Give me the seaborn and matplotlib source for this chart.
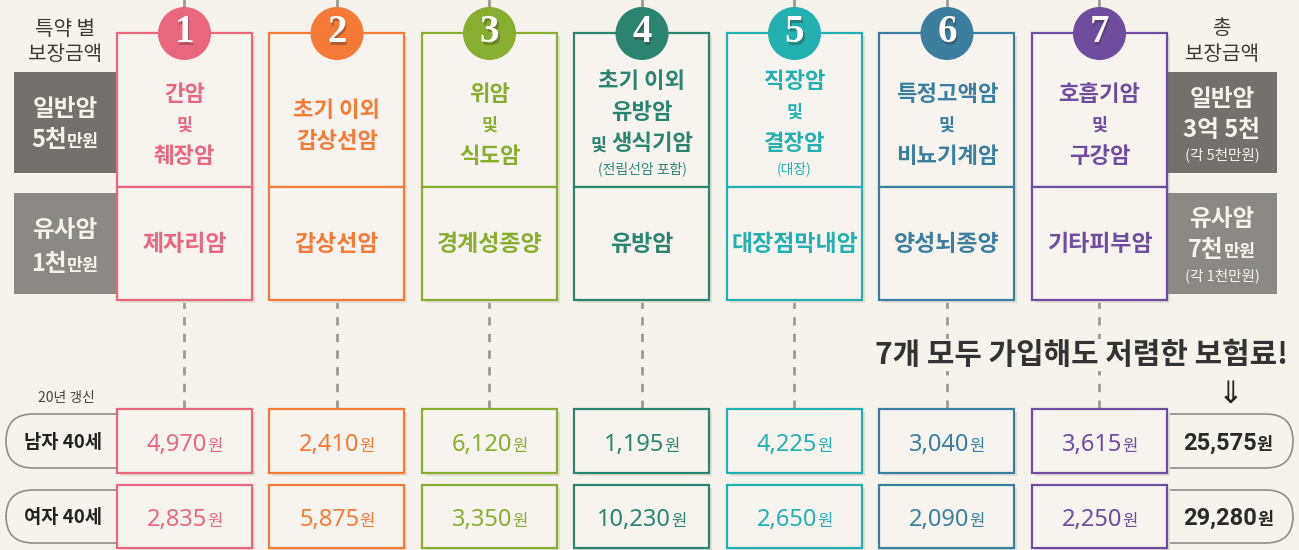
import matplotlib
matplotlib.use("Agg")
import matplotlib.pyplot as plt
import seaborn as sns
from matplotlib.patches import Rectangle, Circle, FancyBboxPatch

# ---- data ----
numbers = ["1", "2", "3", "4", "5", "6", "7"]
titles = [
    ["간암", "및", "췌장암"],
    ["초기 이외", "갑상선암"],
    ["위암", "및", "식도암"],
    ["초기 이외", "유방암", "및 생식기암", "(전립선암 포함)"],
    ["직장암", "및", "결장암", "(대장)"],
    ["특정고액암", "및", "비뇨기계암"],
    ["호흡기암", "및", "구강암"],
]
similar = ["제자리암", "갑상선암", "경계성종양", "유방암", "대장점막내암", "양성뇌종양", "기타피부암"]
male_prem = [4970, 2410, 6120, 1195, 4225, 3040, 3615]
female_prem = [2835, 5875, 3350, 10230, 2650, 2090, 2250]
row_labels = ["남자 40세", "여자 40세"]
colors = sns.color_palette(["#e9667f", "#f47a36", "#88ae2f", "#2b8470",
                            "#22b0b0", "#3b7e9e", "#6e4c9e"])

BG = "#f6f2ec"
FONT = ["Noto Sans CJK KR", "DejaVu Sans"]
NUMFONT = ["Noto Sans", "Noto Sans CJK KR"]
NUMFONT_B = ["Roboto", "Noto Sans CJK KR"]

sns.set_theme(style="white")
plt.rcParams["font.family"] = FONT

fig = plt.figure(figsize=(12.99, 5.5), dpi=100, facecolor=BG)
ax = fig.add_axes([0, 0, 1, 1])
ax.set_xlim(0, 1299)
ax.set_ylim(550, 0)
ax.axis("off")
ax.set_facecolor(BG)
renderer = fig.canvas.get_renderer()


def rich(cx, cy, parts, color, z=5, family=None):
    # parts: (text, size, weight[, gap after]) drawn on a common baseline, centred on cx
    big = max(p[1] for p in parts)
    base = cy + 0.37 * big * 100 / 72
    objs = []
    for p in parts:
        t = ax.text(0, base, p[0], fontsize=p[1], fontweight=p[2], color=color,
                    va="baseline", ha="left", family=family or FONT, zorder=z)
        objs.append((t, p[3] if len(p) > 3 else 0))
    widths = [t.get_window_extent(renderer).width + g for t, g in objs]
    x = cx - sum(widths) / 2
    for (t, g), w in zip(objs, widths):
        t.set_x(x)
        x += w


x0, pitch, w = 117, 152.5, 135
top, mid, bot = 33, 187, 300
rows_y = [(409, 473), (485, 548)]
grey = "#9d9a96"

for i, col in enumerate(colors):
    xl = x0 + i * pitch
    cx = xl + w / 2
    # dashed connector + small tick above the circle
    ax.plot([cx, cx], [bot, rows_y[0][0]], color=grey, lw=2, ls=(0, (3, 3)), zorder=1)
    ax.plot([cx, cx], [0, 8], color=grey, lw=2, zorder=1)
    # cards with a faint shadow
    for (ya, yb) in [(top, mid), (mid, bot)] + rows_y:
        ax.add_patch(Rectangle((xl + 3, ya + 3), w, yb - ya, facecolor="#e4ded5",
                               edgecolor="none", zorder=2))
        ax.add_patch(Rectangle((xl, ya), w, yb - ya, facecolor="#f7f4ef",
                               edgecolor=col, lw=1.6, zorder=3))
    # number badge
    ax.add_patch(Circle((cx, 33.5), 26.5, facecolor=col, edgecolor="none", zorder=4))
    ax.text(cx + 1.5, 35.5, numbers[i], fontsize=28, fontweight="bold", family="Liberation Serif",
            color="#3a2a2a", alpha=0.35, ha="center", va="center", zorder=4)
    ax.text(cx, 33, numbers[i], fontsize=28, fontweight="bold", family="Liberation Serif",
            color="white", ha="center", va="center", zorder=5)
    # title lines
    lines = titles[i]
    steps = [26 if ln.startswith("(") else 31 for ln in lines[1:]]
    y = 124 - sum(steps) / 2
    for k, ln in enumerate(lines):
        if k > 0:
            y += steps[k - 1]
        if ln == "및":
            rich(cx, y, [(ln, 12.5, "bold")], col)
        elif ln.startswith("및 "):
            rich(cx, y, [("및", 12.5, "bold", 5), (ln[2:], 16, "bold")], col)
        elif ln.startswith("("):
            rich(cx, y, [(ln, 10, "normal")], col)
        else:
            rich(cx, y, [(ln, 16, "bold")], col)
    rich(cx, 243, [(similar[i], 16.5, "bold")], col)
    # premiums
    for (ya, yb), prem in zip(rows_y, [male_prem[i], female_prem[i]]):
        rich(cx, (ya + yb) / 2 + 1, [(f"{prem:,}", 17, "normal"), ("원", 12, "normal")], col,
             family=NUMFONT)

# left legend
rich(65, 28, [("특약 별", 14.5, "normal")], "#3b3837")
rich(65, 53, [("보장금액", 14.5, "normal")], "#3b3837")
ax.add_patch(Rectangle((14, 72), 102, 101, facecolor="#73706d", edgecolor="none", zorder=2))
ax.add_patch(Rectangle((14, 193), 102, 101, facecolor="#8b8986", edgecolor="none", zorder=2))
light = "#f6f1ea"
rich(65, 107, [("일반암", 17, "bold")], light)
rich(65, 138, [("5천", 17, "bold"), ("만원", 12.5, "bold")], light)
rich(65, 228, [("유사암", 17, "bold")], light)
rich(65, 262, [("1천", 17, "bold"), ("만원", 12.5, "bold")], light)

# right totals
rich(1222, 27, [("총", 14.5, "normal")], "#3b3837")
rich(1222, 53, [("보장금액", 14.5, "normal")], "#3b3837")
ax.add_patch(Rectangle((1168, 72), 109, 101, facecolor="#73706d", edgecolor="none", zorder=2))
ax.add_patch(Rectangle((1168, 193), 109, 101, facecolor="#8b8986", edgecolor="none", zorder=2))
rich(1222, 97, [("일반암", 17, "bold")], light)
rich(1222, 128, [("3억 5천", 17, "bold")], light)
rich(1222, 154, [("(각 5천만원)", 10.5, "normal")], light)
rich(1222, 217, [("유사암", 17, "bold")], light)
rich(1222, 248, [("7천", 17, "bold"), ("만원", 12.5, "bold")], light)
rich(1222, 275, [("(각 1천만원)", 10.5, "normal")], light)

# row pills
rich(66, 397, [("20년 갱신", 10, "normal")], "#444444")
totals = [sum(male_prem), sum(female_prem)]
pills_y = [(414, 468), (490, 543)]
for (ya, yb), lab, tot in zip(pills_y, row_labels, totals):
    ax.add_patch(FancyBboxPatch((6, ya), 150, yb - ya, boxstyle="round,pad=0,rounding_size=27",
                                facecolor=BG, edgecolor="#8f8c89", lw=1.2, zorder=1.5))
    rich(63, (ya + yb) / 2, [(lab, 13.5, "bold")], "#222222")
    ax.add_patch(FancyBboxPatch((1140, ya), 153, yb - ya, boxstyle="round,pad=0,rounding_size=27",
                                facecolor=BG, edgecolor="#8f8c89", lw=1.2, zorder=1.5))
    rich(1228, (ya + yb) / 2, [(f"{tot:,}", 17, "bold"), ("원", 12.5, "bold")], "#2a2a2a",
         family=NUMFONT_B)

# headline + arrow
ax.text(1288, 355, "7개 모두 가입해도 저렴한 보험료!", fontsize=21.5, fontweight="bold",
        color="#333333", ha="right", va="center", family=FONT, zorder=6,
        bbox=dict(facecolor=BG, edgecolor="none", pad=1))
ax.text(1230, 394, "⇓", fontsize=22, color="#222222", ha="center", va="center",
        family=["DejaVu Sans"], zorder=6)

fig.savefig("out.png", dpi=100, facecolor=BG)
